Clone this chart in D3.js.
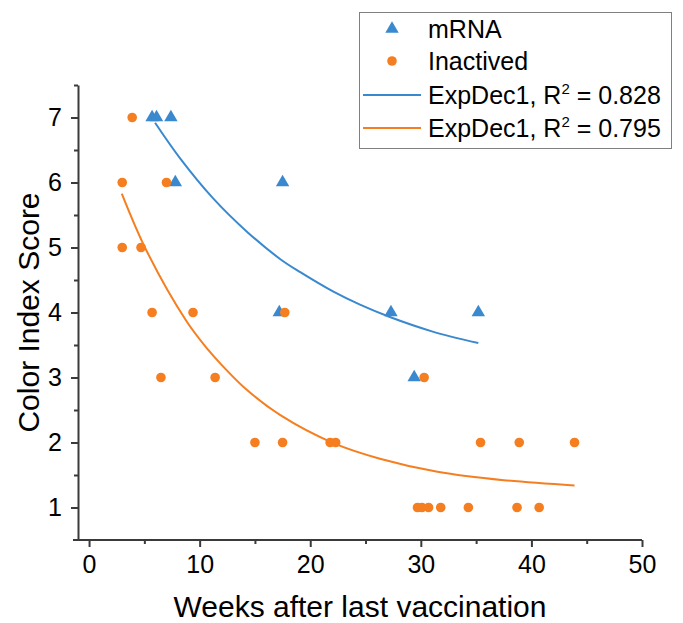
<!DOCTYPE html>
<html>
  <head>
    <style>
      body { margin: 0; background: #fff; overflow: hidden; }
      svg { font-family: "Liberation Sans", Arial, sans-serif; }
      .axis path, .axis line { stroke: #3a3a3a; stroke-width: 2px; }
      .axis text { font-size: 25px; fill: #000; }
    </style>
  </head>
  <body>
    <svg width="683" height="623"></svg>
    <script src="https://cdn.jsdelivr.net/npm/d3@7/dist/d3.min.js"></script>
    <script>
      // scatter data
      const mrnaX = [5.7, 6.1, 7.4, 7.8, 17.5, 17.2, 27.3, 35.2, 29.4];
      const mrnaY = [7, 7, 7, 6, 6, 4, 4, 4, 3];
      const inactX = [3.9, 3.0, 7.0, 3.0, 4.7, 5.7, 9.4, 17.7, 6.5, 11.4, 30.3,
                      15.0, 17.5, 21.8, 22.3, 35.4, 38.9, 43.9,
                      29.7, 30.1, 30.7, 31.8, 34.3, 38.7, 40.7];
      const inactY = [7, 6, 6, 5, 5, 4, 4, 4, 3, 3, 3,
                      2, 2, 2, 2, 2, 2, 2,
                      1, 1, 1, 1, 1, 1, 1];

      // fitted curves (ExpDec1)
      const fitMrnaX = [5.97, 8.2, 11.2, 14.3, 17.3, 19.1, 22.1, 24.5, 27.2, 31.0, 35.2];
      const fitMrnaY = [6.92, 6.38, 5.76, 5.24, 4.82, 4.62, 4.32, 4.12, 3.93, 3.71, 3.53];
      const fitInactX = [2.96, 5.2, 8.8, 10.8, 11.9, 14.0, 17.3, 22.1, 26.3, 31.5, 37.5, 43.9];
      const fitInactY = [5.83, 4.95, 3.87, 3.42, 3.21, 2.85, 2.42, 1.99, 1.75, 1.55, 1.42, 1.34];

      const xMajor = [0, 10, 20, 30, 40, 50];
      const xMinor = [5, 15, 25, 35, 45];
      const yMajor = [1, 2, 3, 4, 5, 6, 7];
      const yMinor = [1.5, 2.5, 3.5, 4.5, 5.5, 6.5, 7.5];

      const legendLabels = ['mRNA', 'Inactived', 'ExpDec1, R', 'ExpDec1, R'];
      const legendR2 = [null, null, '0.828', '0.795'];

      const blue = '#3a89cf';
      const orange = '#f57f20';

      const svg = d3.select('svg');
      const x = d3.scaleLinear().domain([-1, 50]).range([78, 642]);
      const y = d3.scaleLinear().domain([0.5, 7.5]).range([540, 85]);

      // axes
      svg.append('line')
        .attr('x1', 73).attr('x2', x(50))
        .attr('y1', y(0.5)).attr('y2', y(0.5))
        .attr('stroke', '#3a3a3a').attr('stroke-width', 2);

      svg.append('g').attr('class', 'axis')
        .attr('transform', 'translate(0,' + y(0.5) + ')')
        .call(d3.axisBottom(x).tickValues(xMajor).tickSize(7).tickSizeOuter(0).tickPadding(8).tickFormat(d3.format('d')))
        .call(g => g.select('.domain').remove());
      svg.append('g').attr('class', 'axis')
        .attr('transform', 'translate(0,' + y(0.5) + ')')
        .call(d3.axisBottom(x).tickValues(xMinor).tickSize(4).tickFormat(''))
        .call(g => g.select('.domain').remove());

      svg.append('g').attr('class', 'axis')
        .attr('transform', 'translate(' + x(-1) + ',0)')
        .call(d3.axisLeft(y).tickValues(yMajor).tickSize(7).tickSizeOuter(0).tickPadding(9).tickFormat(d3.format('d')));
      svg.append('g').attr('class', 'axis')
        .attr('transform', 'translate(' + x(-1) + ',0)')
        .call(d3.axisLeft(y).tickValues(yMinor).tickSize(4).tickFormat(''))
        .call(g => g.select('.domain').remove());

      // axis titles
      svg.append('text')
        .attr('x', (x(-1) + x(50)) / 2).attr('y', 617)
        .attr('text-anchor', 'middle')
        .style('font-size', '30px')
        .text('Weeks after last vaccination');
      svg.append('text')
        .attr('transform', 'translate(39,' + (y(0.5) + y(7.5)) / 2 + ') rotate(-90)')
        .attr('text-anchor', 'middle')
        .style('font-size', '30px')
        .text('Color Index Score');

      // fitted lines
      const line = d3.line().x(d => x(d[0])).y(d => y(d[1])).curve(d3.curveCatmullRom);
      svg.append('path')
        .attr('d', line(d3.zip(fitMrnaX, fitMrnaY)))
        .attr('fill', 'none').attr('stroke', blue).attr('stroke-width', 2);
      svg.append('path')
        .attr('d', line(d3.zip(fitInactX, fitInactY)))
        .attr('fill', 'none').attr('stroke', orange).attr('stroke-width', 2);

      // points
      const tri = d3.symbol().type(d3.symbolTriangle).size(78);
      svg.append('g').selectAll('path')
        .data(d3.zip(mrnaX, mrnaY))
        .join('path')
        .attr('d', tri)
        .attr('transform', d => 'translate(' + x(d[0]) + ',' + y(d[1]) + ')')
        .attr('fill', blue);

      svg.append('g').selectAll('circle')
        .data(d3.zip(inactX, inactY))
        .join('circle')
        .attr('cx', d => x(d[0])).attr('cy', d => y(d[1]))
        .attr('r', 4.8)
        .attr('fill', orange);

      // legend
      const lg = svg.append('g');
      lg.append('rect')
        .attr('x', 359.5).attr('y', 12.5).attr('width', 312).attr('height', 136)
        .attr('fill', '#fff').attr('stroke', '#808080').attr('stroke-width', 1);

      const rowY = [29, 61, 95, 128];
      legendLabels.forEach((lab, i) => {
        const cy = rowY[i];
        if (i === 0) {
          lg.append('path').attr('d', tri)
            .attr('transform', 'translate(392,' + cy + ')').attr('fill', blue);
        } else if (i === 1) {
          lg.append('circle').attr('cx', 392).attr('cy', cy).attr('r', 4.8).attr('fill', orange);
        } else {
          lg.append('line')
            .attr('x1', 363).attr('x2', 421).attr('y1', cy).attr('y2', cy)
            .attr('stroke', i === 2 ? blue : orange).attr('stroke-width', 1.8);
        }
        const t = lg.append('text')
          .attr('x', 428).attr('y', cy + 9)
          .style('font-size', '25px');
        t.append('tspan').text(lab);
        if (legendR2[i]) {
          t.append('tspan').attr('dy', -10).style('font-size', '15px').text('2');
          t.append('tspan').attr('dy', 10).text(' = ' + legendR2[i]);
        }
      });
    </script>
  </body>
</html>
